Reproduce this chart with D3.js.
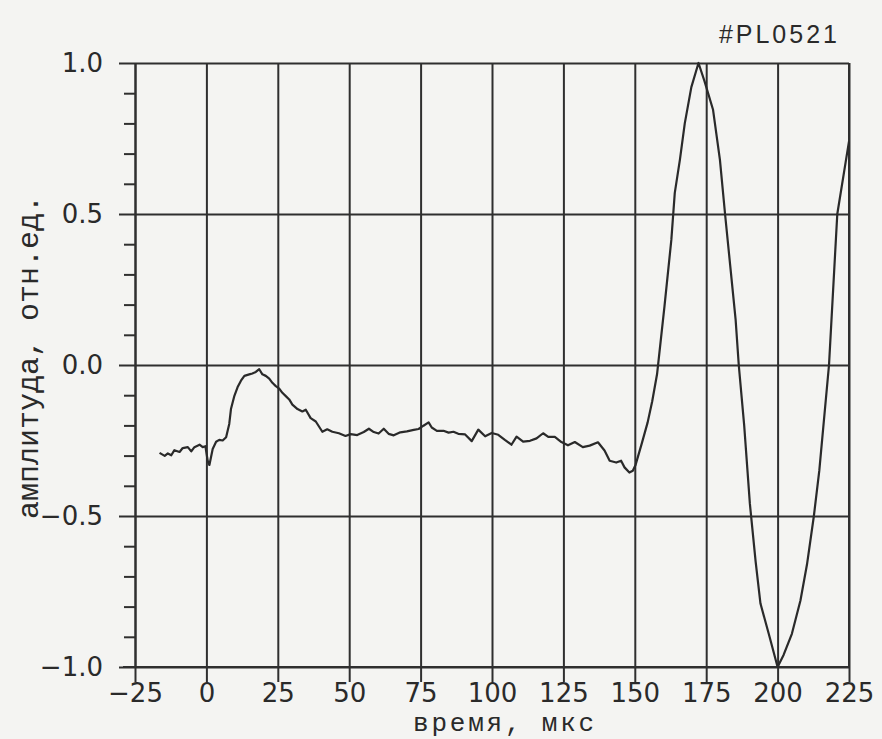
<!DOCTYPE html>
<html>
<head>
<meta charset="utf-8">
<script src="https://cdn.jsdelivr.net/npm/d3@7"></script>
<style>
  html, body { margin: 0; padding: 0; background: #f4f4f2; }
  svg { display: block; }
</style>
</head>
<body>
<svg id="chart" width="882" height="739"></svg>
<script>
// ---- data ----
const xTickValues = [-25, 0, 25, 50, 75, 100, 125, 150, 175, 200, 225];
const yTickValues = [-1.0, -0.5, 0.0, 0.5, 1.0];
const yMinorTicks = [-0.9, -0.8, -0.7, -0.6, -0.4, -0.3, -0.2, -0.1, 0.1, 0.2, 0.3, 0.4, 0.6, 0.7, 0.8, 0.9];
const xTitle = "время, мкс";
const yTitle = "амплитуда, отн.ед.";
const shotLabel = "#PL0521";

const timeUs = [
  -16.4, -14.6, -13.5, -12.3, -11.2, -9.4, -8.3, -6.5, -5.3, -4.2,
  -2.4, -1.3, -0.35, 0.45, 1.05, 2.2, 3.4, 4.5, 5.7, 6.9,
  8.0, 8.6, 9.8, 10.9, 12.1, 13.3, 15.0, 16.1, 17.3, 18.5,
  19.6, 20.8, 22.0, 23.1, 24.3, 25.5, 26.6, 27.8, 29.0, 30.1,
  31.9, 33.6, 34.8, 36.5, 38.3, 40.6, 42.3, 44.1, 46.4, 48.7,
  50.5, 52.8, 55.1, 56.9, 58.6, 60.3, 62.1, 63.8, 65.6, 67.9,
  70.2, 72.6, 74.3, 76.0, 77.8, 78.9, 80.7, 83.0, 84.8, 86.5,
  88.2, 90.6, 92.9, 95.2, 97.6, 99.9, 102.2, 104.5, 106.8, 108.6,
  110.9, 113.3, 115.6, 117.9, 119.7, 122.0, 124.3, 126.6, 129.0, 131.8,
  134.2, 137.1, 139.4, 141.2, 143.5, 145.2, 146.4, 148.1, 149.3, 150.3,
  152.5, 154.5, 156.1, 157.8, 160.4, 162.8, 164.0, 165.8, 167.5, 169.8,
  172.3, 174.4, 177.4, 179.8, 181.6, 183.4, 185.3, 186.4, 188.3, 190.3,
  192.3, 194.0, 196.9, 200.0, 202.1, 205.0, 208.0, 210.3, 212.7, 214.6,
  218.0, 220.9, 223.8, 225.0
];
const amplitude = [
  -0.291, -0.301, -0.293, -0.299, -0.282, -0.288, -0.275, -0.272, -0.286, -0.272,
  -0.264, -0.272, -0.269, -0.317, -0.331, -0.278, -0.254, -0.248, -0.250, -0.239,
  -0.195, -0.146, -0.102, -0.074, -0.052, -0.036, -0.031, -0.028, -0.023, -0.014,
  -0.031, -0.036, -0.045, -0.059, -0.070, -0.078, -0.092, -0.103, -0.114, -0.131,
  -0.146, -0.154, -0.148, -0.176, -0.187, -0.221, -0.213, -0.221, -0.226, -0.235,
  -0.229, -0.232, -0.222, -0.211, -0.222, -0.227, -0.211, -0.228, -0.233, -0.223,
  -0.220, -0.215, -0.212, -0.201, -0.190, -0.207, -0.218, -0.218, -0.224, -0.221,
  -0.228, -0.230, -0.252, -0.214, -0.236, -0.225, -0.231, -0.248, -0.264, -0.237,
  -0.254, -0.251, -0.243, -0.226, -0.238, -0.238, -0.255, -0.266, -0.255, -0.272,
  -0.267, -0.256, -0.283, -0.317, -0.323, -0.317, -0.339, -0.356, -0.350, -0.330,
  -0.258, -0.19, -0.12, -0.03, 0.195, 0.415, 0.57, 0.68, 0.80, 0.92,
  1.0, 0.94, 0.845, 0.68, 0.50, 0.33, 0.15, 0.0, -0.20, -0.46,
  -0.65, -0.79, -0.89, -1.0, -0.96, -0.89, -0.78, -0.66, -0.50, -0.35,
  0.0, 0.50, 0.67, 0.74
];

// ---- layout ----
const svg = d3.select("#chart");
const mLeft = 135, mRight = 849, mTop = 63, mBottom = 667;
const ink = "#2f2f2f";

const x = d3.scaleLinear().domain([-25, 225]).range([mLeft, mRight]);
const y = d3.scaleLinear().domain([-1, 1]).range([mBottom, mTop]);

svg.append("rect").attr("width", 882).attr("height", 739).attr("fill", "#f4f4f2");

// vertical grid
svg.append("g")
  .attr("transform", `translate(0,${mBottom})`)
  .call(d3.axisBottom(x).tickValues(xTickValues).tickSize(-(mBottom - mTop)).tickSizeOuter(0).tickFormat(""))
  .call(g => g.select(".domain").remove())
  .call(g => g.selectAll("line").attr("stroke", ink).attr("stroke-width", 2));

// horizontal grid
svg.append("g")
  .attr("transform", `translate(${mLeft},0)`)
  .call(d3.axisLeft(y).tickValues(yTickValues).tickSize(-(mRight - mLeft)).tickSizeOuter(0).tickFormat(""))
  .call(g => g.select(".domain").remove())
  .call(g => g.selectAll("line").attr("stroke", ink).attr("stroke-width", 2));

// x axis with ticks & labels
svg.append("g")
  .attr("transform", `translate(0,${mBottom})`)
  .call(d3.axisBottom(x).tickValues(xTickValues).tickSize(15).tickSizeOuter(0).tickPadding(2).tickFormat(d3.format("d")))
  .call(g => g.select(".domain").attr("stroke", ink).attr("stroke-width", 2)
        .attr("d", `M${mLeft - 12},0H${mRight}`))
  .call(g => g.selectAll("line").attr("stroke", ink).attr("stroke-width", 2))
  .call(g => g.selectAll("text").attr("fill", "#2a2a2a")
        .style("font-family", "'DejaVu Sans', sans-serif").style("font-size", "26px"));

// y axis with ticks & labels
svg.append("g")
  .attr("transform", `translate(${mLeft},0)`)
  .call(d3.axisLeft(y).tickValues(yTickValues).tickSize(16).tickSizeOuter(0).tickPadding(16).tickFormat(d3.format(".1f")))
  .call(g => g.select(".domain").attr("stroke", ink).attr("stroke-width", 2))
  .call(g => g.selectAll("line").attr("stroke", ink).attr("stroke-width", 2))
  .call(g => g.selectAll("text").attr("fill", "#2a2a2a")
        .style("font-family", "'DejaVu Sans', sans-serif").style("font-size", "26px"));

// y minor ticks
svg.append("g")
  .attr("transform", `translate(${mLeft},0)`)
  .call(d3.axisLeft(y).tickValues(yMinorTicks).tickSize(11).tickSizeOuter(0).tickFormat(""))
  .call(g => g.select(".domain").remove())
  .call(g => g.selectAll("line").attr("stroke", ink).attr("stroke-width", 2));

// right border (top border is the 1.0 grid line)
svg.append("line")
  .attr("x1", x(225)).attr("x2", x(225)).attr("y1", mTop).attr("y2", mBottom)
  .attr("stroke", ink).attr("stroke-width", 2);

// signal
const pts = timeUs.map((t, i) => [t, amplitude[i]]);
svg.append("path")
  .datum(pts)
  .attr("fill", "none")
  .attr("stroke", "#2a2a2a")
  .attr("stroke-width", 2.2)
  .attr("stroke-linejoin", "round")
  .attr("d", d3.line().x(d => x(d[0])).y(d => y(d[1])));

// titles
svg.append("text")
  .attr("x", 505).attr("y", 731)
  .attr("text-anchor", "middle")
  .attr("fill", "#2a2a2a")
  .style("font-family", "'Liberation Mono', 'DejaVu Sans Mono', monospace")
  .style("font-size", "26px")
  .style("letter-spacing", "2.8px")
  .text(xTitle);

svg.append("text")
  .attr("transform", "translate(38,357) rotate(-90)")
  .attr("text-anchor", "middle")
  .attr("fill", "#2a2a2a")
  .style("font-family", "'Liberation Mono', 'DejaVu Sans Mono', monospace")
  .style("font-size", "30px")
  .text(yTitle);

svg.append("text")
  .attr("x", 840).attr("y", 43)
  .attr("text-anchor", "end")
  .attr("fill", "#2a2a2a")
  .style("font-family", "'Liberation Sans', Arial, sans-serif")
  .style("font-size", "25px")
  .style("letter-spacing", "3px")
  .text(shotLabel);
</script>
</body>
</html>
